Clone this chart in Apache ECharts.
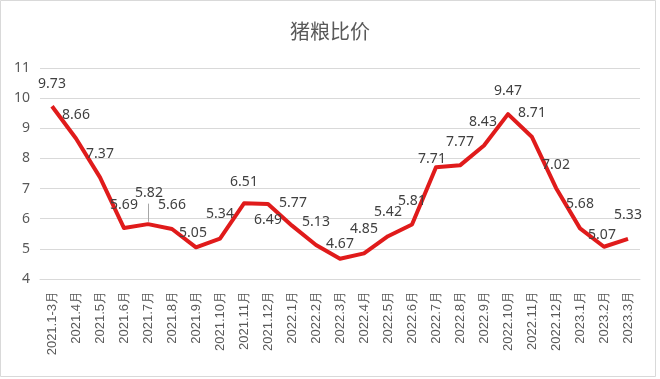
<!DOCTYPE html>
<html>
<head>
<meta charset="utf-8">
<script src="https://cdn.jsdelivr.net/npm/echarts@6/dist/echarts.min.js"></script>
<style>
html,body{margin:0;padding:0;background:#fff;}
#chart{width:660px;height:379px;}
</style>
</head>
<body>
<div id="chart"></div>
<script>
const categories = ['2021.1-3月','2021.4月','2021.5月','2021.6月','2021.7月','2021.8月','2021.9月','2021.10月','2021.11月','2021.12月','2022.1月','2022.2月','2022.3月','2022.4月','2022.5月','2022.6月','2022.7月','2022.8月','2022.9月','2022.10月','2022.11月','2022.12月','2023.1月','2023.2月','2023.3月'];
const ratio = [9.73,8.66,7.37,5.69,5.82,5.66,5.05,5.34,6.51,6.49,5.77,5.13,4.67,4.85,5.42,5.81,7.71,7.77,8.43,9.47,8.71,7.02,5.68,5.07,5.33];
const yTicks = {min: 4, max: 11, interval: 1};

// label nudges (label centre relative to point), pixels
const labelNudge = [[0,-22],[0,-24],[0,-23],[0,-23],[1,-31],[0,-24],[-3,-14],[0,-25],[0,-21],[0,16],[1,-23],[0,-23],[0,-15],[0,-24],[0,-24],[0,-23],[-4,-8],[0,-23],[-1,-23],[0,-23],[0,-24],[0,-23],[0,-24],[-2,-12],[0,-24]];

const chart = echarts.init(document.getElementById('chart'));

chart.setOption({
  backgroundColor: '#ffffff',
  animation: false,
  title: {
    text: '猪粮比价',
    left: 'center',
    top: 16,
    textStyle: {fontFamily: 'Noto Sans CJK SC', fontSize: 20, fontWeight: 'normal', color: '#595959'}
  },
  graphic: [{
    type: 'rect',
    shape: {x: 0.5, y: 0.5, width: 655, height: 376},
    style: {fill: 'none', stroke: '#d9d9d9', lineWidth: 1},
    silent: true
  }],
  grid: {left: 40, right: 20, top: 68, bottom: 100, containLabel: false},
  xAxis: {
    type: 'category',
    data: categories,
    boundaryGap: true,
    axisLine: {show: true, lineStyle: {color: '#d9d9d9', width: 1}},
    axisTick: {show: false},
    axisLabel: {rotate: 90, interval: 0, margin: 12, color: '#595959', fontSize: 13, fontFamily: 'Liberation Sans'}
  },
  yAxis: {
    type: 'value',
    min: yTicks.min,
    max: yTicks.max,
    interval: yTicks.interval,
    axisLine: {show: false},
    axisTick: {show: false},
    splitLine: {lineStyle: {color: '#d9d9d9', width: 1}},
    axisLabel: {margin: 10, color: '#595959', fontSize: 14, fontFamily: 'Noto Sans'}
  },
  series: [{
    type: 'line',
    data: ratio,
    symbol: 'circle',
    symbolSize: 0.1,
    showSymbol: true,
    lineStyle: {color: '#e01b1b', width: 4, join: 'round'},
    itemStyle: {color: '#e01b1b'},
    label: {
      show: true,
      position: 'inside',
      color: '#404040',
      fontSize: 14,
      fontFamily: 'Noto Sans'
    },
    labelLayout: function (params) {
      const n = labelNudge[params.dataIndex] || [0, 0];
      return {dx: n[0], dy: n[1], hideOverlap: false};
    },
    markLine: {
      silent: true,
      symbol: ['none', 'none'],
      label: {show: false},
      lineStyle: {color: '#a6a6a6', width: 1, type: 'solid'},
      data: [[{coord: [4, 5.9]}, {coord: [4, 6.5]}]]
    }
  }]
});
</script>
</body>
</html>
